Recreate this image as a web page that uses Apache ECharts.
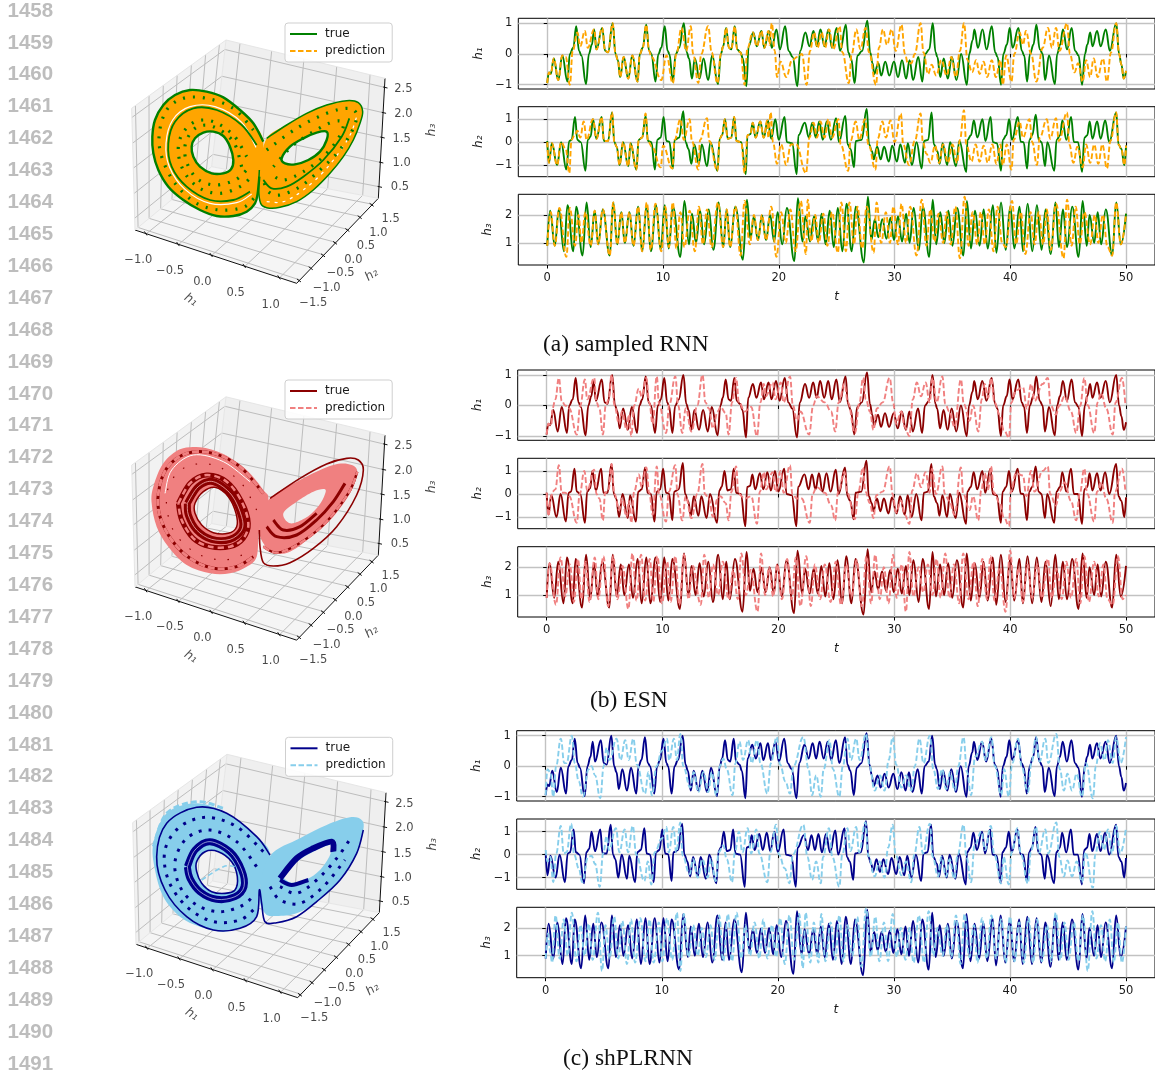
<!DOCTYPE html>
<html><head><meta charset="utf-8">
<style>html,body{margin:0;padding:0;background:#fff;overflow:hidden}#c{width:1155px;height:1074px}</style>
<script src="https://cdn.jsdelivr.net/npm/echarts@6/dist/echarts.min.js"></script></head>
<body><div id="c"></div><script>
// flat t,v,t,v lists
const trueH1=[0,-.95,.15,-.6,.3,-.65,.57,-.15,.95,-.85,1.3,-.05,1.75,-.9,1.95,0,2.25,.2,2.5,.9,2.75,.1,2.95,-.05,3.35,-.98,3.6,0,3.85,.3,4.05,.8,4.25,.15,4.75,.85,5,.1,5.25,.05,5.65,1,5.9,0,6.1,-.2,6.3,-.75,6.6,-.1,7,-.8,7.35,-.05,7.8,-.9,8,0,8.25,.2,8.55,.95,8.8,.1,9,0,9.35,-.9,9.6,0,9.85,.2,10.15,.9,10.4,.1,10.55,0,10.85,-.9,11.1,0,11.4,.2,11.8,1,12.05,.05,12.25,-.15,12.5,-.8,12.75,-.15,13.15,-.8,13.5,-.15,13.9,-.85,14.25,-.05,14.75,-.98,15,0,15.2,.25,15.45,.85,15.7,.2,15.9,.15,16.2,.9,16.4,.15,16.7,.05,16.9,-.15,17.2,-1.05,17.4,.25,17.8,.7,18.1,.25,18.5,.75,18.75,.2,19.15,.75,19.4,.2,19.8,.8,20.1,.15,20.55,.9,20.85,.1,21.2,-.1,21.6,-1.05,21.85,.1,22.3,.7,22.65,.25,23,.75,23.3,.25,23.6,.8,23.95,.25,24.3,.8,24.6,.2,25,.85,25.3,.1,25.8,.95,26,.05,26.25,-.15,26.55,-.95,26.8,-.05,27.2,.1,27.65,1.08,27.9,.05,28.1,-.3,28.25,-.65,28.6,-.3,28.85,-.7,29.2,-.25,29.55,-.7,29.95,-.25,30.3,-.75,30.65,-.2,31,-.8,31.3,-.2,31.6,-.85,32.05,-.1,32.4,-.9,32.65,0,33,.15,33.3,1,33.55,.05,33.7,-.1,33.95,-.75,34.25,-.15,34.6,-.8,34.95,-.1,35.35,-.85,35.75,0,36.25,-1,36.45,0,36.75,.45,36.9,.8,37.2,.2,37.6,.8,37.95,.15,38.4,.9,38.7,.05,38.9,-.1,39.2,-1,39.4,0,39.7,.3,39.95,.85,40.2,.2,40.7,.85,41,.1,41.2,-.05,41.45,-.9,41.7,0,42,.3,42.25,.95,42.55,.15,42.8,0,43,-.85,43.35,-.05,43.85,-.98,44.05,0,44.3,.3,44.55,.8,44.9,.15,45.3,.85,45.6,.1,45.9,-.05,46.2,-1,46.45,0,46.65,.3,46.9,.7,47.1,.25,47.5,.75,47.8,.25,48.25,.8,48.6,.1,49.15,1,49.4,0,49.6,-.35,49.8,-.8,50,-.55];
const trueH2=[0,.05,.15,-.9,.4,-.05,.85,-1,1.2,0,1.65,-1.2,1.9,.05,2.1,.1,2.4,1.1,2.6,.1,2.9,0,3.3,-1.25,3.5,.1,3.75,.25,3.95,1,4.25,.15,4.7,1.1,4.9,.05,5.25,.05,5.6,1.3,5.8,0,6,-.2,6.25,-1,6.55,0,7,-1.05,7.2,-.05,7.7,-1.2,7.9,.1,8.2,.2,8.5,1.15,8.7,.05,9,0,9.3,-1.2,9.5,.1,9.8,.2,10.05,1.1,10.3,.05,10.55,.02,10.85,-1.15,11,.1,11.4,.2,11.75,1.35,11.95,0,12.2,-.3,12.45,-.95,12.7,-.1,13.1,-.95,13.35,-.1,13.8,-1.05,14.1,0,14.7,-1.25,14.9,.15,15.1,.3,15.35,1,15.6,.15,15.9,.2,16.15,1.1,16.35,.05,16.75,0,17.15,-1.4,17.3,.3,17.55,.35,17.75,.85,18,.2,18.4,.9,18.7,.2,19.05,.95,19.35,.15,19.7,1,20,.1,20.5,1.1,20.7,0,21.15,-.05,21.55,-1.4,21.7,.3,22.25,.85,22.6,.2,22.9,.85,23.2,.2,23.5,.9,23.8,.1,24.15,.9,24.5,.1,24.95,1.05,25.2,0,25.75,1.15,25.95,-.1,26.2,-.3,26.5,-1.1,26.65,.05,27.15,.1,27.6,1.45,27.8,-.1,28.05,-.4,28.2,-.75,28.5,-.2,28.8,-.75,29.1,-.2,29.5,-.85,29.8,-.15,30.2,-.85,30.5,-.1,30.9,-.9,31.15,-.05,31.5,-1,31.9,0,32.35,-1.15,32.55,.05,32.9,.1,33.2,1.3,33.4,-.1,33.7,-.4,33.9,-.95,34.15,-.05,34.55,-1,34.8,0,35.3,-1.05,35.6,.05,36.2,-1.3,36.3,.1,36.6,.3,36.85,.95,37.15,.2,37.6,1,37.85,.05,38.3,1.1,38.5,0,38.85,-.05,39.2,-1.25,39.35,.1,39.65,.3,39.9,1,40.15,.1,40.65,1.1,40.9,.02,41.15,0,41.45,-1.15,41.65,.1,41.9,.3,42.2,1.2,42.45,.1,42.7,0,43,-1.05,43.2,0,43.8,-1.25,44,.1,44.3,.3,44.5,.95,44.85,.1,45.25,1.1,45.5,0,45.85,0,46.2,-1.3,46.4,.2,46.65,.3,46.85,.9,47.1,.15,47.5,.9,47.8,.15,48.2,.95,48.55,0,49.15,1.3,49.35,-.1,49.6,-.3,49.85,-1,50,-.15];
const trueH3=[0,.9,.25,2.15,.65,.9,1,2.2,1.45,.7,1.75,2.35,2.25,.7,2.5,2.3,3.05,.55,3.4,2.45,3.75,.85,4.1,2.15,4.4,.95,4.8,2.2,5.4,.55,5.7,2.45,6.05,.95,6.4,2.1,6.7,1,7.1,2.1,7.45,.9,7.85,2.3,8.2,.7,8.6,2.35,8.95,.7,9.4,2.35,9.8,.75,10.15,2.35,10.5,.8,10.85,2.3,11.5,.5,11.85,2.5,12.25,.95,12.5,2.05,12.85,1,13.2,2.15,13.55,.95,13.95,2.2,14.35,.75,14.8,2.45,15.2,.85,15.5,2.2,15.8,.85,16.25,2.3,16.9,.4,17.25,2.55,17.55,1.15,17.85,1.95,18.2,1.1,18.55,1.98,18.9,1.1,19.25,2,19.6,1.05,19.9,2.1,20.3,.95,20.7,2.25,21.35,.35,21.65,2.6,22.05,1.05,22.3,1.95,22.7,1.05,23.05,1.95,23.4,1.05,23.7,2.05,24.05,.95,24.4,2.15,24.75,.85,25.1,2.25,25.5,.7,25.85,2.4,26.3,.7,26.65,2.3,27.35,.3,27.7,2.65,28,1.1,28.3,1.85,28.6,1.2,28.95,1.85,29.3,1.15,29.65,1.9,29.95,1.1,30.3,1.95,30.65,1.05,31,2.05,31.3,1,31.65,2.25,32.1,.75,32.45,2.3,33,.5,33.3,2.55,33.6,.95,33.95,2.1,34.3,1,34.65,2.15,35,.9,35.4,2.25,35.95,.55,36.25,2.5,36.6,.8,36.95,2.15,37.35,.9,37.7,2.2,38.05,.8,38.5,2.35,38.8,.65,39.2,2.45,39.6,.75,40,2.3,40.35,.8,40.8,2.3,41.1,.7,41.5,2.4,41.9,.7,42.3,2.35,42.7,.75,43.05,2.2,43.5,.6,43.9,2.45,44.2,.85,44.55,2.2,44.9,.85,45.35,2.3,45.9,.5,46.25,2.5,46.6,.9,46.85,2,47.25,1,47.55,2.1,47.85,.95,48.25,2.2,48.8,.55,49.15,2.45,49.55,.95,50,2.05];

const rnnH1=[0,-.95,.15,-.6,.3,-.65,.57,-.15,.95,-.85,1.3,-.05,1.6,-.1,1.95,-1,2.2,.1,2.6,.7,2.85,.25,3.25,.75,3.5,.2,4.05,.8,4.25,.15,4.75,.85,5,.1,5.25,.05,5.65,1,5.9,0,6.1,-.2,6.3,-.75,6.6,-.1,7,-.8,7.35,-.05,7.8,-.9,8,0,8.25,.2,8.55,.95,8.8,.1,9,-.1,9.85,-.85,10.3,-.05,10.85,-.95,11.15,0,11.6,.85,12,.1,12.4,.9,12.6,0,13.05,-.95,13.3,0,13.9,.9,14.2,.05,14.7,-.95,15,0,15.2,.25,15.45,.85,15.7,.2,15.9,.15,16.2,.9,16.4,.15,16.7,.05,17.05,-1,17.3,.2,17.75,.7,18.1,.25,18.5,.75,18.75,.2,19.1,.75,19.2,.3,19.4,1,19.65,.1,19.85,-.75,20.15,-.25,20.65,-.75,21.15,-.2,21.6,-.1,22,0,22.4,-1,22.7,.1,23.05,.7,23.35,.2,23.7,.7,24,.2,24.35,.8,24.7,.15,25.25,.9,25.5,.05,26.05,-.95,26.3,0,26.7,.8,27.05,.15,27.5,.85,27.8,.05,28.4,-1,28.65,.2,29,.8,29.35,.3,29.75,.8,30.1,.1,30.6,.95,30.9,0,31.15,-.3,31.45,-.3,31.75,0,32.25,1,32.5,.05,32.9,-.65,33.2,-.35,33.6,-.7,34.05,-.2,34.5,-.7,34.9,-.1,35.3,-.75,35.65,.1,36,1,36.3,-.2,36.7,-.6,37.05,-.2,37.35,-.65,37.7,-.25,38,-.75,38.4,-.2,38.75,-.75,39.15,-.2,39.35,-1,39.65,-.05,40.1,-.9,40.35,0,40.8,.7,41.1,.3,41.35,.75,41.8,0,42.25,-.9,42.8,.2,43.25,.85,43.6,.2,43.95,.85,44.25,.1,44.9,1,45.15,0,45.55,-.6,45.85,-.3,46.25,-.9,46.55,-.2,46.9,-.75,47.2,-.15,47.55,-.75,48,-.15,48.35,-.9,48.7,.05,49.15,1,49.4,0,49.6,-.35,49.8,-.8,50,-.55];
const rnnH2=[0,0,.15,-.9,.4,-.05,.85,-1,1.2,0,1.6,-.3,1.9,-1.35,2.1,.1,2.4,.35,2.6,.5,2.85,.2,3.15,.9,3.4,.1,3.95,1,4.25,.15,4.7,1.1,4.9,.05,5.25,.05,5.6,1.3,5.8,0,6,-.2,6.25,-1,6.55,0,7,-1.05,7.2,-.05,7.7,-1.2,7.9,.1,8.2,.2,8.5,1.25,8.7,.05,9.05,-.2,9.8,-1.1,10,-.15,10.8,-1.15,11,.1,11.5,1,11.8,.1,12.3,1,12.5,.05,13.05,-1.2,13.2,.1,13.8,1.05,14,.05,14.7,-1.25,14.9,.15,15.1,.3,15.35,1,15.6,.15,15.9,.2,16.15,1.1,16.35,.05,16.75,0,17.05,-1.35,17.3,.3,17.55,.35,17.75,.85,18,.2,18.4,.9,18.7,.2,19,.95,19.1,.2,19.3,1.3,19.5,0,19.85,-.95,20.2,-.1,20.65,-1,21.05,-.1,21.5,-.1,22.35,-1.35,22.65,.2,23,.85,23.3,.2,23.6,.9,23.95,.2,24.3,1,24.6,.2,25.15,1,25.35,-.1,26,-1.25,26.2,.05,26.65,.9,26.95,.1,27.45,1,27.75,-.1,28.35,-1.2,28.55,.15,28.95,.9,29.25,.2,29.65,.95,30,0,30.55,1.25,30.75,-.1,31.25,-1,31.75,.05,32.25,1.25,32.45,0,32.75,-.5,33.1,-.9,33.5,-.15,33.85,-.9,34.2,-.1,34.6,-.9,35,-.1,35.4,-.9,35.65,.1,36,1.4,36.2,-.1,36.65,-.85,37,-.1,37.35,-.85,37.7,-.15,38.05,-.9,38.45,-.1,38.8,-.95,39.15,-.1,39.35,-1,39.7,-.1,40.1,-1.2,40.3,.1,40.8,.9,41.1,.2,41.65,1,41.9,0,42.3,-1,42.55,.2,43.15,1,43.45,.15,43.95,1.05,44.2,.05,44.9,1.3,45.1,-.1,45.45,-.9,45.8,-.2,46.25,-1.1,46.55,-.1,46.9,-.9,47.25,-.1,47.6,-.95,47.95,-.1,48.35,-1.15,48.65,.05,49.15,1.3,49.35,-.1,49.6,-.3,49.85,-1,50,-.15];
const rnnH3=[0,.9,.3,2.1,.65,.9,1.05,2.25,1.65,.5,1.95,2.25,2.4,.9,2.7,2,2.95,1,3.3,2.1,3.75,.9,4.1,2.15,4.4,.95,4.8,2.2,5.4,.55,5.7,2.45,6.05,.95,6.4,2.1,6.7,1,7.1,2.1,7.45,.9,7.85,2.3,8.2,.7,8.6,2.45,8.95,.75,9.35,2.4,9.85,.7,10.2,2.3,10.5,.85,10.85,2.45,11.15,.8,11.5,2.1,11.85,.85,12.3,2.15,12.75,.7,13.1,2.3,13.45,.95,13.8,2.2,14.2,.85,14.75,2.45,15.2,.85,15.5,2.2,15.8,.85,16.25,2.3,16.7,.55,17.05,2.5,17.5,.95,17.85,2,18.2,1.1,18.55,2,18.9,1.1,19.35,2.3,19.8,.5,20.2,2.1,20.6,1,21,2.2,21.45,.7,21.9,2.5,22.35,.6,22.5,2.55,22.8,1.05,23.15,2,23.45,1,23.85,2.05,24.2,.9,24.6,2.1,25.1,.65,25.4,2.45,25.8,.7,26.1,2.45,26.5,.95,26.8,2.3,27.2,.8,27.6,2.3,28.2,.65,28.45,2.45,28.85,1,29.25,2.1,29.6,1,29.9,2.3,30.3,.95,30.6,2.4,31,1,31.35,2.3,31.9,.55,32.35,2.55,32.75,.9,33.1,2.2,33.45,1.05,33.8,2.05,34.2,1,34.5,2.1,34.85,.95,35.25,2.3,35.65,.45,36.05,2.65,36.4,.9,36.75,2.1,37.15,.95,37.45,2.1,37.8,.95,38.15,2.2,38.55,.7,38.9,2.3,39.3,1,39.6,.85,40.15,2.5,40.5,.95,40.9,2.1,41.3,.6,41.75,2.1,42.1,.95,42.45,2.1,42.85,.95,43.15,2.2,43.5,.75,43.95,2.4,44.6,.45,44.9,2.55,45.3,.9,45.65,2.3,46,.95,46.4,2.1,46.9,.95,47.3,2,47.6,1,48,2,48.4,.85,48.8,.55,49.15,2.45,49.55,.95,50,2.05];

const esnH1=[0,-.95,.15,-.6,.4,-.65,.5,-.1,.75,.2,1.05,.9,1.3,.15,1.6,0,1.95,-.1,2.6,-.95,2.9,0,3.3,.85,3.5,.2,4.1,.9,4.3,.1,4.55,-.1,4.85,-.95,5.1,0,5.35,.2,5.6,1,5.85,0,6.25,-.6,6.5,-.2,6.9,-.8,7.1,-.3,7.3,-1,7.55,0,7.95,.55,8.2,.3,8.6,.9,8.85,.1,9.15,-.6,9.5,.95,9.7,.05,10.3,-.9,10.6,.05,11.1,.95,11.35,0,11.7,-.9,12,-.1,12.5,-.85,13,0,13.45,1,13.7,.1,14,-.1,14.35,-.75,14.75,-.2,15,-.05,15.45,-.25,15.7,-.95,16,.1,16.35,.9,16.6,.1,17.1,-.2,17.65,-.05,18.15,-1,18.45,.1,18.75,.7,18.9,.3,19.5,.75,19.75,.2,20.2,.75,20.45,.1,21,.95,21.25,0,21.6,-.5,21.9,-.2,22.65,-.95,23,0,23.3,.3,24,.1,24.55,-.2,24.9,-.85,25.2,.1,25.7,.7,26,.1,26.6,-.9,27,.1,27.3,.9,27.55,.2,27.9,-.2,28.2,-.8,28.5,-.1,29,.1,29.6,.9,29.9,.1,30.15,-.6,30.6,-.2,30.9,-.7,31.3,-1,31.6,.2,31.95,.75,32.3,.3,32.7,.75,33.05,.1,33.3,.9,33.65,.1,34.15,.95,34.4,.05,34.75,-.2,35.2,-.7,35.75,.85,36,.05,36.5,-.5,36.8,0,37.25,-.85,37.55,.2,37.8,.7,38.1,.25,38.35,.9,38.65,.1,39.1,-.3,39.45,-.8,39.9,-1.05,40.1,.1,40.5,.5,41.1,.6,41.45,-.1,41.8,.7,42.1,.15,42.8,.7,43.25,.9,43.5,0,43.95,-.3,44.25,0,44.7,.3,45.25,-.2,45.7,-.9,46.05,0,46.4,.9,46.7,0,47.25,-.9,47.55,.1,47.85,.4,48.3,-.1,48.85,-.95,49.1,.1,49.65,.9,49.95,0];
const esnH2=[0,.05,.15,-.95,.4,-.1,.5,.1,.75,.2,1.05,1.25,1.3,.05,1.6,.05,1.95,-.1,2.6,-1.25,2.85,0,3.25,1,3.5,.15,4.1,1.05,4.3,0,4.55,-.2,4.85,-1.15,5.05,.05,5.35,.2,5.6,1.3,5.85,0,6.25,-.7,6.5,-.2,6.9,-1,7.1,-.3,7.3,-1.25,7.55,.1,7.95,.85,8.2,.3,8.6,1.15,8.85,.05,9.15,-.9,9.5,1.2,9.7,0,10.3,-1.2,10.55,.1,11.1,1.25,11.3,-.05,11.7,-1.15,12,-.1,12.5,-1.05,13,0,13.45,1.3,13.65,0,14,-.2,14.35,-1,14.75,-.2,15,-.1,15.45,-.4,15.7,-1.15,15.95,.1,16.35,1.2,16.55,0,17.1,-.2,17.65,-.1,18.15,-1.3,18.4,.1,18.75,.95,18.95,.2,19.5,.95,19.75,.1,20.2,1,20.45,.05,21,1.25,21.2,0,21.6,-.2,22,-.2,22.7,-1.25,22.95,0,23.3,.3,24,.05,24.55,-.5,24.9,-1.15,25.15,.1,25.7,.95,25.95,.05,26.6,-1.1,26.9,.1,27.3,1.15,27.5,.1,27.9,-.4,28.2,-1.05,28.45,-.05,29,.1,29.6,1.2,29.85,0,30.15,-.8,30.6,-.3,30.9,-.9,31.3,-1.3,31.55,.15,31.95,.9,32.3,.3,32.7,.95,33.05,.05,33.25,1.1,33.6,0,34.15,1.2,34.35,0,34.75,-.3,35.2,-.9,35.75,1.15,35.95,0,36.5,-.7,36.8,-.1,37.25,-1.15,37.5,.15,37.8,.9,38.1,.2,38.35,1.2,38.6,.05,39.1,-.4,39.45,-1,39.9,-1.4,40.05,.1,40.5,.9,41.1,.8,41.4,-.1,41.8,1,42.1,.1,42.8,1,43.25,1.2,43.45,0,43.95,-.5,44.25,.1,44.7,.5,45.25,-.3,45.7,-1.15,46,0,46.4,1.1,46.65,0,47.25,-1.2,47.5,.1,47.85,.5,48.3,-.2,48.85,-1.25,49.05,.1,49.65,1.1,49.95,.1];
const esnH3=[0,.9,.25,2.15,.8,.65,1.2,2.35,1.6,.95,2,2.1,2.35,.75,2.7,2.3,3,.85,3.35,2.2,3.7,.75,4.15,2.35,4.45,.85,4.9,2.4,5.3,.6,5.75,2.4,6.1,.85,6.55,2.05,7.05,.5,7.4,2.5,7.75,.8,8.15,2.45,8.5,.8,8.9,2.3,9.2,.75,9.55,2.4,9.95,.7,10.4,2.2,10.7,.75,11.1,2.4,11.45,.65,11.85,2.45,12.25,.85,12.6,2.05,13.3,.65,13.6,2.45,14,.9,14.35,2.1,14.8,1,15.2,2.2,15.7,.85,16.1,1.9,16.5,.85,16.8,2.5,17.2,1,17.6,1.9,18.2,.4,18.5,2.5,18.85,1,19.2,2,19.55,.95,19.9,2.1,20.3,.85,20.75,2.3,21.15,.85,21.5,2.35,21.9,.6,22.4,2.4,22.8,.6,23.15,2.1,23.6,.85,24,2.1,24.5,.75,24.95,2.2,25.4,.65,25.85,2.1,26.3,.95,26.75,2.25,27.2,.6,27.6,2.4,28,.7,28.35,2.45,28.75,.85,29.1,2,29.5,.7,29.9,2.45,30.2,.9,30.65,2.1,31,.4,31.3,2.55,31.65,.95,32.1,2,32.5,1.1,32.9,2.1,33.3,1,33.65,2.3,34,.9,34.4,2.5,34.75,.9,35.15,2.1,35.6,.7,35.95,2.5,36.4,.85,36.85,2.2,37.2,.6,37.6,2.3,38,.85,38.3,2.4,38.65,.8,39.1,2,39.6,.4,40,2.6,40.35,.9,40.75,2,41.1,.75,41.5,2.1,41.9,.9,42.35,2.1,42.75,.9,43.25,2.3,43.6,.9,44,1.95,44.45,.85,44.85,2.2,45.25,.9,45.7,2.3,46.05,.7,46.4,2.4,46.8,.75,47.25,2.2,47.65,.95,48.05,2.1,48.4,.85,48.85,.65,49.3,2.4,49.7,.85,50,1];

const plrnnH1=[0,-.95,.15,-.1,.4,-.2,.65,-1,.9,0,1.3,.9,1.6,.1,1.8,.1,2.25,1,2.5,.1,2.85,-.5,3.2,-1,3.7,-.1,3.95,0,4.25,-.3,4.7,-1.05,5,0,5.25,.6,5.5,.2,6.1,.9,6.45,.2,6.85,.85,7.15,.2,7.55,.9,7.85,.05,8.55,-.9,8.85,-.2,9.15,-.95,9.55,0,10,.5,10.45,.9,10.65,.2,11.05,.9,11.3,.2,11.6,1.05,11.85,0,12.45,-.7,12.75,-.2,13.15,-.85,13.6,-.2,14,-.85,14.3,-.2,14.7,-.95,15,0,15.3,.25,15.6,-.1,16.1,-.95,16.35,.1,16.7,.8,17,.2,17.45,.85,17.75,.1,18.2,.85,18.5,.1,19.1,-.9,19.4,.1,19.9,.95,20.2,.05,20.65,-.5,21.05,-.9,21.35,0,22.2,.95,22.65,-.1,22.95,-.95,23.3,-.3,23.7,-1,23.95,-.1,24.45,.85,24.75,-.1,25.3,-1,25.6,0,26,.9,26.3,.2,26.75,.9,27.05,.2,27.6,1.05,27.9,0,28.35,-.8,28.8,-.3,29.2,-.8,29.55,.2,29.9,.95,30.2,.05,30.65,-.7,31.05,-.3,31.5,-.8,31.8,0,32.2,.9,32.55,.1,33.1,1,33.4,-.1,33.8,-.75,34.15,-.1,34.5,-.75,34.85,-.2,35.25,-.8,35.55,0,36,.95,36.3,-.2,36.65,-.95,37,.3,37.6,.8,37.9,.2,38.4,.95,38.7,0,39.25,-.95,39.5,-.1,39.9,-1,40.2,.1,40.7,.9,41,0,41.55,-.85,41.85,.1,42.25,.95,42.55,.15,43.05,.9,43.3,.1,44,1.05,44.3,-.1,44.65,-.8,44.95,-.25,45.35,-.8,45.75,-.25,46.2,-1,46.55,.1,47.15,-1.05,47.4,0,47.75,.75,48.15,.2,48.45,.85,48.85,.1,49.15,.95,49.55,.1,50,.95];
const plrnnH2=[0,.2,.15,-.3,.4,-.1,.65,-1.2,.9,.05,1.3,1.25,1.55,.05,1.8,.1,2.2,1.35,2.45,0,2.85,-.6,3.15,-1.2,3.65,-.1,3.95,-.05,4.25,-.4,4.65,-1.4,4.95,.05,5.25,.8,5.45,.2,6.05,1.15,6.35,.1,6.8,1.1,7.1,.1,7.5,1.25,7.8,0,8.5,-1.15,8.8,-.3,9.1,-1.3,9.4,.1,10,.7,10.4,1.2,10.6,.1,11,1.2,11.25,.1,11.6,1.4,11.8,-.05,12.4,-.85,12.7,-.2,13.1,-1,13.5,-.2,13.95,-1,14.25,-.2,14.65,-1.15,14.9,.1,15.3,.4,15.6,-.2,16.05,-1.2,16.3,.1,16.65,1,16.95,.1,17.4,1.15,17.7,.05,18.15,1.1,18.4,.05,19.1,-1.2,19.35,.1,19.85,1.3,20.1,0,20.6,-.6,21,-1.25,21.3,0,22.2,1.3,22.55,-.1,22.95,-1.1,23.3,-.3,23.7,-1.25,23.9,-.1,24.4,1.15,24.7,-.1,25.3,-1.4,25.55,0,26,1.15,26.25,.15,26.75,1.2,27,.1,27.55,1.4,27.8,-.05,28.35,-.95,28.75,-.3,29.2,-1,29.5,.3,29.9,1.3,30.15,0,30.65,-.9,31.05,-.3,31.5,-1.2,31.75,0,32.2,1.2,32.5,.05,33.1,1.35,33.35,-.1,33.8,-.95,34.1,-.1,34.5,-.95,34.8,-.2,35.2,-1.05,35.5,0,36,1.3,36.25,-.1,36.65,-1.2,36.95,.4,37.55,1,37.85,.2,38.35,1.25,38.65,0,39.25,-1.25,39.45,-.1,39.9,-1.3,40.15,.1,40.65,1.15,40.95,0,41.55,-1.25,41.8,.1,42.25,1.2,42.5,.1,43.05,1.1,43.3,.05,44,1.4,44.25,-.1,44.65,-.95,44.95,-.25,45.35,-.95,45.75,-.3,46.2,-1.2,46.5,.1,47.15,-1.45,47.35,0,47.75,1,48.1,.2,48.45,1.1,48.8,.05,49.15,1.25,49.5,.05,50,1.15];
const plrnnH3=[0,.9,.2,1.8,.4,1.1,.55,.75,.85,2.45,1.2,.9,1.55,2.3,1.9,1,2.25,2.55,2.65,.8,3,2.1,3.35,1,3.7,2.15,4.05,.85,4.5,2.55,4.85,.45,5.15,2.1,5.5,.9,5.9,2.4,6.25,.9,6.6,2.25,7,.7,7.35,2.3,7.7,.75,8.15,2.35,8.6,.8,8.95,2.3,9.3,.75,9.75,2.2,10.05,.8,10.45,2.35,10.9,.85,11.3,2.55,11.6,.45,11.9,2.5,12.3,.95,12.7,2.1,13.1,1,13.45,2,13.8,.95,14.2,2.1,14.55,.85,14.95,2.45,15.3,.8,15.7,2.5,16.05,.8,16.45,2.55,16.85,.9,17.2,2.1,17.6,1,18,2.2,18.4,.9,18.75,2.3,19.1,.9,19.5,2.1,19.85,.95,20.2,2.35,20.6,.7,21,2.45,21.4,.85,21.85,2.5,22.15,.55,22.4,2.55,22.8,.75,23.1,2.2,23.5,.75,23.75,2.5,24.1,.8,24.55,2.2,24.95,.85,25.3,2.45,25.65,.8,26,2.1,26.4,1,26.85,2.4,27.2,.6,27.6,2.7,28,.95,28.4,2.4,28.75,.8,29.15,2.2,29.5,.8,29.9,2.5,30.25,.95,30.6,2,31,.85,31.35,2,31.7,.75,32.15,2.45,32.6,.75,33,2.6,33.4,1,33.75,2,34.2,1,34.55,2.1,34.95,.95,35.35,2.45,35.75,.7,36.1,2.5,36.5,.95,36.9,2.1,37.2,.75,37.6,2.35,38,.9,38.4,2.45,38.8,.9,39.25,2.3,39.65,.75,40,2.4,40.4,.8,40.8,2.2,41.2,.75,41.6,2.35,42,.75,42.35,2.3,42.75,.8,43.2,2.1,43.55,.8,43.95,2.55,44.35,.85,44.7,2.2,45.05,.85,45.5,2.2,45.9,.8,46.3,2.45,46.7,.45,47.1,2.6,47.45,.9,47.85,2.1,48.2,.8,48.6,2.3,48.95,.75,49.3,2.2,49.65,.75,50,2.05];

const timeTicks=[0,10,20,30,40,50];
const h1Ticks=[-1,0,1], h2Ticks=[-1,0,1], h3Ticks=[1,2];
const viewH1Labels=['\u22121.0','\u22120.5','0.0','0.5','1.0'];
const viewH2Labels=['\u22121.5','\u22121.0','\u22120.5','0.0','0.5','1.0','1.5'];
const viewH3Labels=['0.5','1.0','1.5','2.0','2.5'];
const lineNumbers=[1458,1459,1460,1461,1462,1463,1464,1465,1466,1467,1468,1469,1470,1471,1472,1473,1474,1475,1476,1477,1478,1479,1480,1481,1482,1483,1484,1485,1486,1487,1488,1489,1490,1491];
const captions=['(a) sampled RNN','(b) ESN','(c) shPLRNN'];

// 3-D view: points in a 0..1000 view scale
const cBackTop=[378,90],cBackBot=[335,470],cRightTop=[855,205],cRightBot=[835,565],cLeftTop=[95,295],cLeftBot=[105,660],cFront=[590,820];
const h1Frac=[.088,.287,.49,.696,.906], h2Frac=[.04,.184,.335,.482,.633,.784,.93], h3Frac=[.903,.7,.492,.286,.075];
const h1Front=[.07,.27,.475,.68,.895];
const h1LabelPos=[[115,750],[210,782],[307,815],[407,850],[512,884]];
const h2LabelPos=[[640,880],[680,835],[722,790],[760,750],[798,708],[835,668],[872,627]];
const h3LabelPos=[[900,532],[905,460],[905,388],[910,312],[910,238]];

// attractor outlines and rings per panel
const aOuterL=[[490,395],[460,340],[420,300],[370,262],[320,245],[270,240],[225,255],[190,285],[165,330],[157,380],[160,430],[175,480],[205,530],[250,570],[300,600],[350,618],[400,618],[440,605],[465,580],[473,550],[478,500]];
const aHoleL=[[275,410],[285,385],[310,368],[340,365],[370,378],[390,410],[400,450],[393,478],[370,490],[335,490],[300,470],[280,440]];
const aOuterR=[[500,385],[560,345],[620,310],[680,285],[740,272],[775,278],[788,305],[780,340],[760,390],[730,440],[690,490],[640,540],[590,575],[540,592],[500,593],[482,580],[476,540],[478,480]];
const aHoleR=[[545,445],[570,410],[610,385],[650,368],[680,365],[680,390],[660,425],[625,450],[585,463],[555,460]];
const aRing1=[[470,405],[425,345],[350,300],[280,295],[225,335],[205,400],[215,470],[260,530],[330,570],[400,570],[450,545]];
const aRing2=[[440,440],[400,375],[340,335],[285,335],[245,375],[235,430],[255,490],[300,535],[360,550],[420,530],[455,500]];
const aRing3=[[460,360],[400,295],[320,265],[250,265],[200,300],[178,370],[185,440],[225,520],[290,580],[360,600],[430,592],[462,565]];
const aRing4=[[500,420],[590,355],[680,310],[745,295],[770,315],[755,365],[715,425],[660,480],[600,530],[540,555],[505,545],[490,510]];
const aRing5=[[490,510],[515,535],[560,530],[610,500],[670,450],[725,380],[748,325]];
const aRing6=[[425,470],[400,395],[340,350],[290,352],[258,395],[258,450],[290,505],[345,525],[405,510],[440,480]];
const aRing7=[[520,470],[575,410],[640,365],[700,335],[730,340],[715,385],[670,440],[610,485],[550,510],[510,490]];
const aWhite=[[468,412],[425,337],[345,290],[270,290],[218,330],[198,400],[208,470],[255,538],[330,580],[410,578],[455,552]];
const aWhite2=[[500,575],[550,575],[610,540],[680,475],[745,385],[770,320]];

const bOuterL=[[505,390],[490,360],[440,300],[370,252],[300,232],[240,238],[190,280],[160,350],[155,400],[170,470],[205,530],[260,585],[330,610],[390,610],[440,590],[470,560],[478,480]];
const bHoleL=[[285,400],[310,365],[345,352],[385,380],[408,430],[410,470],[385,490],[340,488],[305,465],[285,430]];
const bOuterR=[[505,390],[600,330],[700,285],[755,285],[772,310],[750,370],[700,440],[640,495],[570,545],[520,548],[490,520],[478,470]];
const bHoleR=[[550,430],[590,395],[640,365],[675,358],[672,380],[650,415],[615,445],[570,460]];
const bLobeTrue=[[478,480],[480,530],[490,578],[520,588],[570,578],[640,535],[710,470],[770,375],[790,300],[775,270],[740,265],[680,282],[600,325],[510,385]];
const bRing1=[[235,400],[270,340],[320,315],[380,335],[425,395],[445,460],[430,505],[390,530],[330,530],[280,505],[245,450],[235,400]];
const bRing2=[[262,400],[295,350],[340,335],[395,375],[425,440],[425,480],[390,508],[335,508],[290,480],[265,435],[262,400]];
const bRing3=[[490,370],[420,290],[340,250],[260,250],[200,295],[175,370],[180,440],[215,510],[270,565],[340,595],[410,590],[460,560]];
const bRing4=[[500,470],[530,500],[590,495],[650,450],[700,395],[735,340]];
const bRing5=[[520,450],[550,480],[600,470],[650,430]];
const bRing6=[[490,530],[530,548],[590,525],[670,465],[745,370],[772,305]];
const bRing7=[[470,420],[420,335],[340,285],[260,290],[210,340],[200,410],[225,490],[290,550],[370,570],[440,550]];
const bWhite=[[195,370],[215,300],[280,255],[370,275],[450,335]];

const cOuterL=[[510,375],[470,320],[380,250],[290,220],[200,250],[160,340],[165,420],[190,500],[240,560],[300,590],[370,605],[430,590],[470,555],[478,480]];
const cHoleL=[[290,395],[315,365],[355,365],[395,395],[412,440],[405,480],[375,490],[335,485],[305,460],[290,425]];
const cOuterR=[[510,378],[600,325],[680,285],[750,262],[785,270],[790,300],[770,370],[720,450],[650,515],[590,550],[530,558],[495,550],[478,490]];
const cHoleR=[[550,435],[590,395],[640,365],[690,345],[690,375],[660,420],[620,448],[575,458]];
const cTrueOuter=[[510,375],[470,320],[380,250],[290,232],[200,280],[170,380],[195,480],[260,560],[340,600],[420,595],[470,560],[478,480],[485,520],[495,575],[530,578],[590,560],[650,515],[720,450],[770,370],[790,300]];
const cBandL=[[262,410],[285,360],[330,335],[390,365],[425,420],[432,470],[405,500],[350,508],[300,485],[270,445],[262,410]];
const cBandR=[[540,445],[590,385],[640,355],[695,335],[700,365]];
const cBandR2=[[540,450],[575,465],[625,450]];
const cRing1=[[490,365],[410,290],[320,262],[240,290],[195,360],[205,450],[260,530],[340,575],[420,570],[465,535]];
const cRing2=[[470,410],[410,335],[330,300],[260,325],[225,395],[240,470],[290,525],[360,545],[430,525],[465,490]];
const cRing3=[[540,470],[590,490],[650,450],[710,385],[755,320]];
const cRing4=[[510,470],[540,510],[600,520],[670,470],[735,390]];
const cDash=[[305,450],[370,410],[405,410]];
const cOutDash=[[160,350],[200,250],[290,215],[370,235]];

function pairs(f){const o=[];for(let i=0;i<f.length;i+=2)o.push([f[i],f[i+1]]);return o}
function lerp(a,b,f){return [a[0]+(b[0]-a[0])*f,a[1]+(b[1]-a[1])*f]}

const grids=[],xAxes=[],yAxes=[],series=[],legends=[],graphics=[];
const FONT='DejaVu Sans',INK='#1a1a1a';

function timeGrid(top,bot,left,yMin,yMax,ticks,ylab,nameGap,showX,nT,nP,cT,cP,tData,pData,lw){
  const i=grids.length;
  grids.push({left,top,width:1156-left,height:bot-top,show:true,borderColor:'#000',borderWidth:1,backgroundColor:'transparent',containLabel:false});
  const grid={show:true,lineStyle:{color:'#c2c2c2',width:1.4}};
  xAxes.push({type:'value',gridIndex:i,min:-2.5,max:52.5,splitLine:{...grid},axisLine:{show:false},
    axisTick:{show:true,length:3.5,lineStyle:{color:'#000'},customValues:timeTicks,inside:false},
    axisLabel:{show:showX,customValues:timeTicks,color:INK,fontFamily:FONT,fontSize:11.5,margin:7},
    name:showX?'t':'',nameLocation:'middle',nameGap:26,nameTextStyle:{fontStyle:'italic',fontFamily:FONT,fontSize:12,color:INK}});
  yAxes.push({type:'value',gridIndex:i,min:yMin,max:yMax,splitLine:{...grid},axisLine:{show:false},
    axisTick:{show:true,length:3.5,lineStyle:{color:'#000'},customValues:ticks},
    axisLabel:{customValues:ticks,color:INK,fontFamily:FONT,fontSize:11.5,margin:6,formatter:v=>String(v).replace('-','\u2212')},
    name:ylab,nameLocation:'middle',nameGap,nameRotate:90,nameTextStyle:{fontStyle:'italic',fontFamily:FONT,fontSize:12,color:INK}});
  const sm={symbol:'none',smooth:.42,smoothMonotone:'x',z:3,silent:true,xAxisIndex:i,yAxisIndex:i};
  series.push({...sm,type:'line',name:nT,data:pairs(tData),lineStyle:{color:cT,width:lw},itemStyle:{color:cT}});
  series.push({...sm,type:'line',name:nP,data:pairs(pData),z:4,lineStyle:{color:cP,width:lw,type:[5.5,2.5]},itemStyle:{color:cP}});
}
const panels=[
 {key:'a',cT:'#008000',cP:'#ffa500',y:[[18.3,89],[106.7,176.7],[194.3,265]],left:518.3,pr:[rnnH1,rnnH2,rnnH3],crop:[100,10],shift:[0,0],legTop:23,lx:285},
 {key:'b',cT:'#8b0000',cP:'#f08080',y:[[370,440.3],[458.3,528.7],[546.7,617]],left:517.7,pr:[esnH1,esnH2,esnH3],crop:[100,370],shift:[0,-9.5],legTop:380,lx:285},
 {key:'c',cT:'#00008b',cP:'#87ceeb',y:[[730.7,801],[819,889.3],[907.3,977.7]],left:516.7,pr:[plrnnH1,plrnnH2,plrnnH3],crop:[100,730],shift:[3,-17],legTop:737.3,lx:285.5}
];
panels.forEach(p=>{
  const nT='true|'+p.key,nP='prediction|'+p.key;
  timeGrid(p.y[0][0],p.y[0][1],p.left,-1.14,1.16,h1Ticks,'h\u2081',24,false,nT,nP,p.cT,p.cP,trueH1,p.pr[0],1.9);
  timeGrid(p.y[1][0],p.y[1][1],p.left,-1.51,1.55,h2Ticks,'h\u2082',24,false,nT,nP,p.cT,p.cP,trueH2,p.pr[1],1.9);
  timeGrid(p.y[2][0],p.y[2][1],p.left,.21,2.74,h3Ticks,'h\u2083',16,true,nT,nP,p.cT,p.cP,trueH3,p.pr[2],1.9);
  legends.push({left:p.lx,top:p.legTop,orient:'vertical',align:'left',data:[nT,nP],padding:[5,7,5,4],itemGap:5,itemWidth:27,itemHeight:13,
    backgroundColor:'rgba(255,255,255,.85)',borderColor:'#cfcfcf',borderWidth:1,borderRadius:3,selectedMode:false,
    itemStyle:{color:'rgba(0,0,0,0)',borderWidth:0,borderColor:'rgba(0,0,0,0)'},
    formatter:n=>n.split('|')[0],textStyle:{fontFamily:FONT,fontSize:12,color:INK,padding:[0,0,0,3]}});
});

function catmull(pts,api,isClosed){
  const P=pts.map(q=>api.coord(q)),n=P.length;let d='M'+P[0][0]+' '+P[0][1];
  const at=i=>isClosed?P[(i+n)%n]:P[Math.max(0,Math.min(n-1,i))];
  for(let i=0;i<(isClosed?n:n-1);i++){
    const p0=at(i-1),p1=at(i),p2=at(i+1),p3=at(i+2);
    d+='C'+(p1[0]+(p2[0]-p0[0])/6)+' '+(p1[1]+(p2[1]-p0[1])/6)+' '+(p2[0]-(p3[0]-p1[0])/6)+' '+(p2[1]-(p3[1]-p1[1])/6)+' '+p2[0]+' '+p2[1];
  }
  return d+(isClosed?'Z':'');
}
function area(a){let s=0;for(let i=0;i<a.length;i++){const p=a[i],q=a[(i+1)%a.length];s+=p[0]*q[1]-q[0]*p[1]}return s}
function orient(a,pos){return (area(a)>0)===pos?a:a.slice().reverse()}

function view(p,cfg){
  const gi=grids.length,sx=p.shift[0],sy=p.shift[1];
  grids.push({left:p.crop[0],top:p.crop[1],width:1000/3,height:1000/3,show:false});
  xAxes.push({type:'value',gridIndex:gi,min:0,max:1000,show:false});
  yAxes.push({type:'value',gridIndex:gi,min:0,max:1000,inverse:true,show:false});
  const S=q=>[q[0]+sx,q[1]+sy];
  const bt=S(cBackTop),bb=S(cBackBot),rt=S(cRightTop),rb=S(cRightBot),lt=S(cLeftTop),lb=S(cLeftBot),fr=S(cFront);
  const base={xAxisIndex:gi,yAxisIndex:gi,silent:true};
  const panes=[[[lt,bt,bb,lb],'#f2f2f2'],[[bt,rt,rb,bb],'#efefef'],[[bb,rb,fr,lb],'#f5f5f5']];
  series.push({...base,type:'custom',z:1,data:panes.map((_,i)=>[i]),renderItem(pr,api){const q=panes[pr.dataIndex];
    return {type:'polygon',shape:{points:q[0].map(c=>api.coord(c))},style:{fill:q[1]}}}});
  const segs=[];
  h3Frac.forEach(f=>{const a=lerp(lb,lt,1-f),b=lerp(bb,bt,1-f),c=lerp(rb,rt,1-f);segs.push([a,b],[b,c]);});
  h1Frac.forEach((f,i)=>{const t=lerp(bt,rt,f),b=lerp(bb,rb,f),e=lerp(lb,fr,h1Front[i]);segs.push([t,b],[b,e]);});
  h2Frac.forEach(f=>{const t=lerp(lt,bt,f),b=lerp(lb,bb,f),e=lerp(fr,rb,f);segs.push([t,b],[b,e]);});
  const n=segs.length;
  [[lb,fr],[fr,rb],[rb,rt],[lt,bt],[bt,rt],[lb,lt],[bt,bb],[bb,rb],[bb,lb]].forEach(s=>segs.push(s));
  series.push({...base,type:'custom',z:2,data:segs.map((_,i)=>[i]),renderItem(pr,api){const i=pr.dataIndex,s=segs[i],a=api.coord(s[0]),b=api.coord(s[1]);
    const k=i-n;const ax=k>=0&&k<3;const box=k>=3;
    return {type:'line',shape:{x1:a[0],y1:a[1],x2:b[0],y2:b[1]},style:{stroke:ax?'#111':box?'#e6e6e6':'#bdbdbd',lineWidth:1}}}});
  const tk=[];
  h1Front.forEach(f=>{const c=lerp(lb,fr,f);tk.push([[c[0]-6,c[1]-7],[c[0]+2,c[1]+5]])});
  h2Frac.forEach(f=>{const c=lerp(fr,rb,f);tk.push([[c[0]-9,c[1]-3],[c[0]+3,c[1]+6]])});
  h3Frac.forEach(f=>{const c=lerp(rb,rt,1-f);tk.push([[c[0]-4,c[1]-1],[c[0]+9,c[1]+2]])});
  series.push({...base,type:'custom',z:3,data:tk.map((_,i)=>[i]),renderItem(pr,api){const s=tk[pr.dataIndex],a=api.coord(s[0]),b=api.coord(s[1]);
    return {type:'line',shape:{x1:a[0],y1:a[1],x2:b[0],y2:b[1]},style:{stroke:'#111',lineWidth:1}}}});
  const labs=[];
  h1LabelPos.forEach((q,i)=>labs.push([...S(q),viewH1Labels[i]]));
  h2LabelPos.forEach((q,i)=>labs.push([...S(q),viewH2Labels[i]]));
  h3LabelPos.forEach((q,i)=>labs.push([...S(q),viewH3Labels[i]]));
  const lblS=(data,rot,italic,fs)=>({...base,type:'scatter',z:9,symbolSize:1,itemStyle:{color:'transparent'},data,
    label:{show:true,position:'inside',rotate:rot,formatter:d=>d.data[2],color:INK,fontFamily:FONT,fontSize:fs,fontStyle:italic?'italic':'normal'}});
  series.push(lblS(labs,0,false,11.5));
  series.push(lblS([[...S([272,870]),'h\u2081']],-32,true,12.5));
  series.push(lblS([[...S([815,795]),'h\u2082']],35,true,12.5));
  series.push(lblS([[...S([996,360]),'h\u2083']],90,true,12.5));
  series.push({...base,type:'custom',z:4,data:cfg.fills.map((_,i)=>[i]),renderItem(pr,api){const f=cfg.fills[pr.dataIndex];
    const d=catmull(orient(f[0],true),api,true)+catmull(orient(f[1],false),api,true);
    return {type:'path',shape:{pathData:d},style:{fill:p.cP}}}});
  const rings=[];
  cfg.lines((pts,col,w,dash,isClosed)=>rings.push({pts,col,w,dash,isClosed}));
  series.push({...base,type:'custom',z:5,data:rings.map((_,i)=>[i]),renderItem(pr,api){const r=rings[pr.dataIndex];
    return {type:'path',shape:{pathData:catmull(r.pts,api,!!r.isClosed)},style:{fill:'none',stroke:r.col,lineWidth:r.w,lineDash:r.dash||null,lineCap:'butt',lineJoin:'round'}}}});
}
view(panels[0],{fills:[[aOuterL,aHoleL],[aOuterR,aHoleR]],lines(ln){
  const G='#008000';
  ln(aOuterL,G,2.4);ln(aOuterR,G,1.5);ln(aHoleL,G,2.4,null,true);ln(aHoleR,G,2.4,null,true);
  ln(aWhite,'#ffffff',1.2);ln(aWhite2,'#ffffff',1.2,[3,5]);
  ln(aRing1,G,1.8);ln(aRing5,G,1.8);
  [aRing2,aRing3,aRing4,aRing6,aRing7].forEach(r=>ln(r,G,3.2,[2,8]));
}});
view(panels[1],{fills:[[bOuterL,bHoleL],[bOuterR,bHoleR]],lines(ln){
  const G='#8b0000',O='#f08080';
  ln(bLobeTrue,G,1.6);ln(bHoleL,G,1.5,null,true);
  ln(bRing7,G,1.2,[1.5,12]);
  ln(bRing1,G,5);ln(bRing1,O,2.5,[6,4]);
  ln(bRing2,G,7);ln(bRing2,'#f6b0b0',.8);
  ln(bRing3,G,3);ln(bRing3,O,3,[7,3]);
  ln(bRing4,G,3);ln(bRing5,G,3);ln(bRing6,G,2.4);ln(bRing6,O,2.4,[7,3]);
  ln(bWhite,'#ffffff',1);
}});
view(panels[2],{fills:[[cOuterL,cHoleL],[cOuterR,cHoleR]],lines(ln){
  const G='#00008b',O='#87ceeb';
  ln(cOutDash,O,3,[6,3]);
  ln(cTrueOuter,G,1.6);
  ln(cBandL,G,7);ln(cBandL,'#c8d8ee',.7);
  ln(cHoleL,G,1.6,null,true);
  ln(cBandR,G,6);ln(cBandR2,G,4);
  [cRing1,cRing2,cRing3,cRing4].forEach(r=>{ln(r,G,3,[3,7]);});
  ln(cDash,O,1.6,[5,3]);
}});

lineNumbers.forEach((n,i)=>graphics.push({type:'text',left:7.5,top:0.5+i*31.91,silent:true,style:{text:String(n),fill:'#bdbdbd',font:'bold 20.5px "Liberation Sans"'}}));
[[543,332.5],[590,688.5],[563,1046.5]].forEach((q,i)=>graphics.push({type:'text',left:q[0],top:q[1],silent:true,style:{text:captions[i],fill:'#111',font:'23.5px "Liberation Serif"'}}));

const chart=echarts.init(document.getElementById('c'),null,{renderer:'canvas'});
chart.setOption({animation:false,backgroundColor:'#fff',grid:grids,xAxis:xAxes,yAxis:yAxes,series,legend:legends,graphic:graphics});
</script></body></html>
